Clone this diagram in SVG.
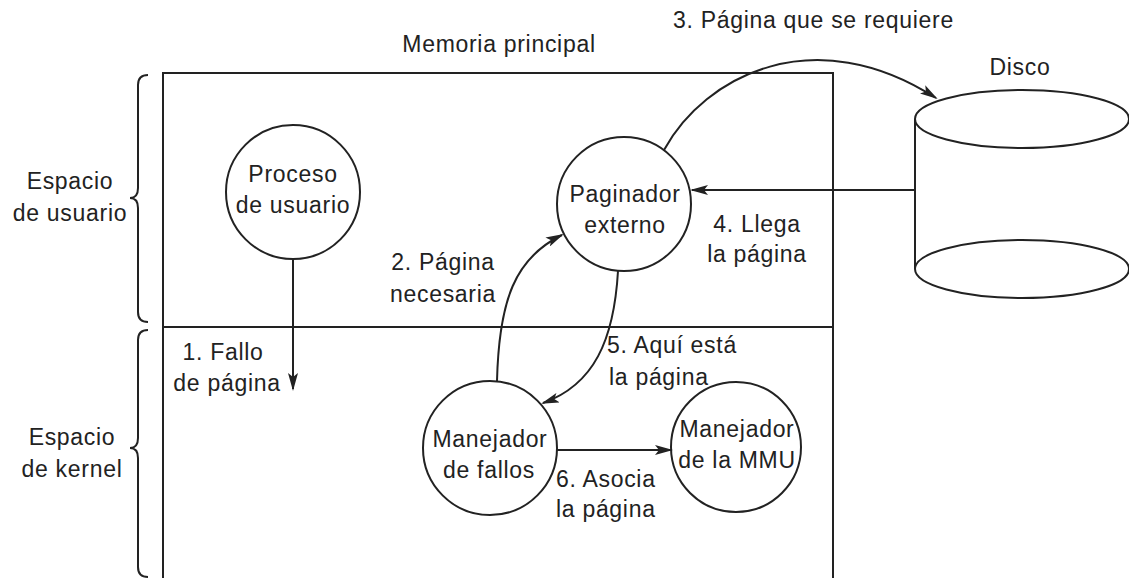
<svg xmlns="http://www.w3.org/2000/svg" width="1129" height="578" viewBox="0 0 1129 578">
<style>
text{font-family:"Liberation Sans",Arial,sans-serif;font-size:23px;letter-spacing:0.7px;fill:#222}
.c{text-anchor:middle}
.s{fill:#fff;stroke:#222;stroke-width:2}
.l{fill:none;stroke:#222;stroke-width:2}
.a{fill:none;stroke:#222;stroke-width:2;marker-end:url(#ah)}
</style>
<defs>
<marker id="ah" markerWidth="18" markerHeight="10" refX="16" refY="5" orient="auto" markerUnits="userSpaceOnUse">
<path d="M0,0 L18,5 L0,10 L4,5 z" fill="#222"/>
</marker>
</defs>
<rect width="1129" height="578" fill="#fff"/>
<g id="memoria">
<path class="l" d="M163,578 V73 H833 V578"/>
<line class="l" x1="163" y1="327" x2="833" y2="327"/>
<text class="c" x="499" y="52">Memoria principal</text>
</g>
<g id="braces">
<path class="l" d="M148,75 Q138,75 138,85 V188 Q138,198 130,198 Q138,198 138,208 V312 Q138,322 148,322"/>
<path class="l" d="M148,330 Q138,330 138,340 V438 Q138,448 130,448 Q138,448 138,458 V567 Q138,577 148,577"/>
<text class="c" x="70" y="189">Espacio</text>
<text class="c" x="70" y="221">de usuario</text>
<text class="c" x="72" y="445">Espacio</text>
<text class="c" x="72" y="477">de kernel</text>
</g>
<g id="proceso">
<circle class="s" cx="293" cy="192" r="67"/>
<text class="c" x="293" y="182">Proceso</text>
<text class="c" x="293" y="213">de usuario</text>
</g>
<g id="paginador">
<circle class="s" cx="624" cy="204" r="67"/>
<text class="c" x="625" y="202">Paginador</text>
<text class="c" x="625" y="233">externo</text>
</g>
<g id="manejador-fallos">
<circle class="s" cx="490" cy="448" r="67"/>
<text class="c" x="490" y="447">Manejador</text>
<text class="c" x="489" y="478">de fallos</text>
</g>
<g id="manejador-mmu">
<circle class="s" cx="736" cy="447" r="65"/>
<text class="c" x="737" y="437">Manejador</text>
<text class="c" x="737" y="468">de la MMU</text>
</g>
<g id="disco">
<line class="l" x1="915" y1="119" x2="915" y2="269"/>
<ellipse class="s" cx="1022" cy="269" rx="107" ry="29"/>
<ellipse class="s" cx="1022" cy="119" rx="107" ry="29"/>
<text class="c" x="1020" y="75">Disco</text>
</g>
<g id="connectors">
<path class="a" d="M293,259 L293,389"/>
<path class="a" d="M497,381 C499,300 515,258 562,235"/>
<path class="a" d="M664,150 C705,75 815,20 936,98"/>
<path class="a" d="M915,190 L692,190"/>
<path class="a" d="M618,271 C614,340 594,385 543,403"/>
<path class="a" d="M557,450 L671,450"/>
</g>
<g id="labels">
<text x="673" y="28">3. Página que se requiere</text>
<text class="c" x="223" y="360">1. Fallo</text>
<text class="c" x="227" y="391">de página</text>
<text class="c" x="443" y="270">2. Página</text>
<text class="c" x="443" y="302">necesaria</text>
<text class="c" x="757" y="232">4. Llega</text>
<text class="c" x="757" y="262">la página</text>
<text x="607" y="353">5. Aquí está</text>
<text x="609" y="385">la página</text>
<text x="556" y="487">6. Asocia</text>
<text x="556" y="517">la página</text>
</g>
</svg>
